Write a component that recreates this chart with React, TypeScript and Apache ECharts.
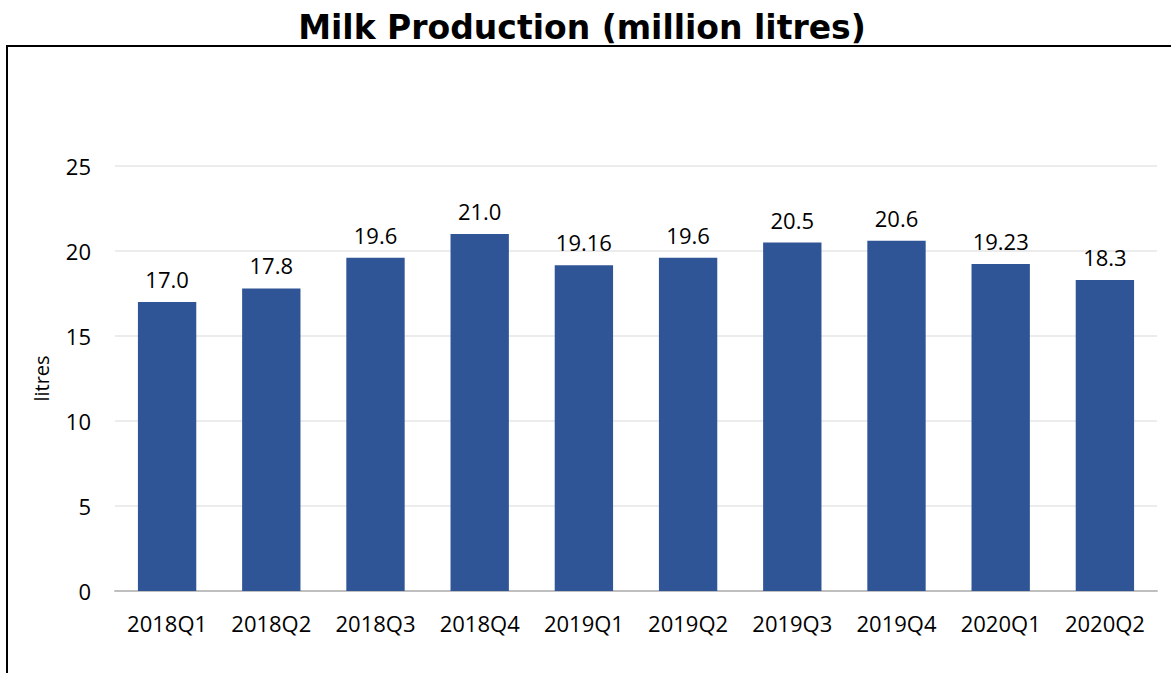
import React, { useEffect, useRef } from "react";
import * as echarts from "echarts";

const categories = ["2018Q1", "2018Q2", "2018Q3", "2018Q4", "2019Q1", "2019Q2", "2019Q3", "2019Q4", "2020Q1", "2020Q2"];
const values = [17.0, 17.8, 19.6, 21.0, 19.16, 19.6, 20.5, 20.6, 19.23, 18.3];
const valueLabels = ["17.0", "17.8", "19.6", "21.0", "19.16", "19.6", "20.5", "20.6", "19.23", "18.3"];
const yTicks = [0, 5, 10, 15, 20, 25];

const TEXT_FONT = "'Open Sans', 'Noto Sans', sans-serif";

export default function App() {
  const ref = useRef<HTMLDivElement>(null);
  useEffect(() => {
    if (!ref.current) return;
    const chart = echarts.init(ref.current, undefined, { renderer: "svg" });
    chart.setOption({
      animation: false,
      backgroundColor: "#ffffff",
      title: {
        text: "Milk Production (million litres)",
        left: 577,
        textAlign: "center",
        top: 6,
        textStyle: { fontFamily: "'DejaVu Sans', sans-serif", fontWeight: "bold", fontSize: 33, color: "#000" },
      },
      graphic: [
        { type: "line", shape: { x1: 6, y1: 46, x2: 1171, y2: 46 }, style: { stroke: "#000", lineWidth: 2 } },
        { type: "line", shape: { x1: 7, y1: 46, x2: 7, y2: 673 }, style: { stroke: "#000", lineWidth: 2 } },
      ],
      grid: { left: 115, right: 14, top: 166, bottom: 82 },
      xAxis: {
        type: "category",
        data: categories,
        axisLine: { lineStyle: { color: "#BFBFBF", width: 2 } },
        axisTick: { show: false },
        axisLabel: { fontFamily: TEXT_FONT, fontSize: 22, color: "#000", margin: 21 },
      },
      yAxis: {
        type: "value",
        min: yTicks[0],
        max: yTicks[yTicks.length - 1],
        interval: 5,
        name: "litres",
        nameLocation: "middle",
        nameGap: 64,
        nameTextStyle: { fontFamily: TEXT_FONT, fontSize: 20, color: "#000" },
        axisLine: { show: false },
        axisTick: { show: false },
        axisLabel: { fontFamily: TEXT_FONT, fontSize: 22, color: "#000", margin: 24 },
        splitLine: { lineStyle: { color: "#E6E6E6", width: 1.5 } },
      },
      series: [
        {
          type: "bar",
          data: values,
          barWidth: "56%",
          itemStyle: { color: "#2F5597" },
          label: {
            show: true,
            position: "top",
            distance: 12,
            fontFamily: TEXT_FONT,
            fontSize: 22,
            color: "#000",
            formatter: (p: any) => valueLabels[p.dataIndex],
          },
        },
      ],
    });
    return () => chart.dispose();
  }, []);
  return <div ref={ref} style={{ position: "fixed", left: 0, top: 0, width: 1171, height: 673 }} />;
}
